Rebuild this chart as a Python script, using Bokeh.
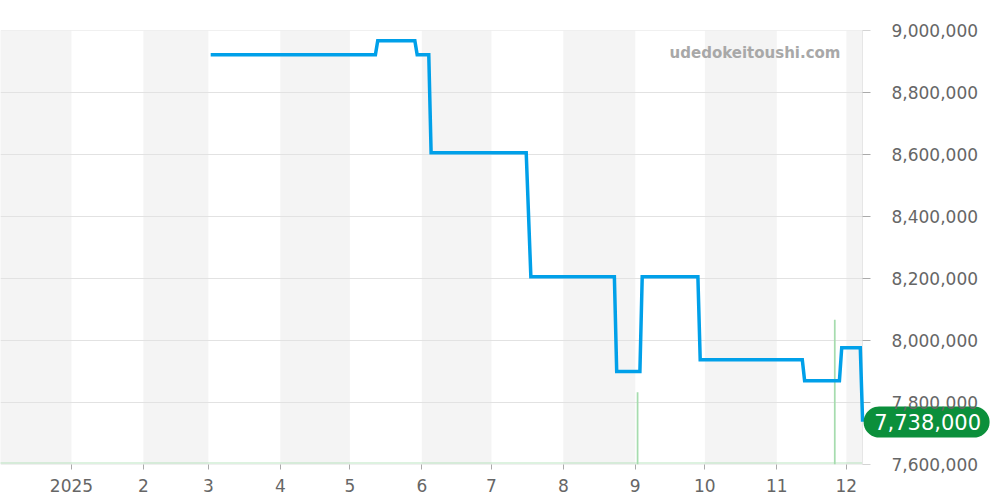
from datetime import datetime, timedelta
import numpy as np

from bokeh.plotting import figure
from bokeh.models import (Range1d, FixedTicker, NumeralTickFormatter,
                          Label, Span, ColumnDataSource)
from bokeh.embed import file_html
from bokeh.resources import INLINE

# ---------------- data ----------------
price_dates = ["2025-03-02", "2025-05-12", "2025-05-13", "2025-05-29", "2025-05-30",
               "2025-06-04", "2025-06-05", "2025-07-16", "2025-07-18", "2025-08-23",
               "2025-08-24", "2025-09-03", "2025-09-04", "2025-09-28", "2025-09-29",
               "2025-11-12", "2025-11-13", "2025-11-28", "2025-11-29", "2025-12-07",
               "2025-12-08"]
prices = [8922000, 8922000, 8967000, 8967000, 8922000,
          8922000, 8606000, 8606000, 8206000, 8206000,
          7900000, 7900000, 8206000, 8206000, 7938000,
          7938000, 7870000, 7870000, 7977000, 7977000,
          7738000]

volume_dates = ["2025-09-02", "2025-11-26"]
volumes = [1, 2]

month_starts = ["2024-12-01", "2025-01-01", "2025-02-01", "2025-03-01", "2025-04-01",
                "2025-05-01", "2025-06-01", "2025-07-01", "2025-08-01", "2025-09-01",
                "2025-10-01", "2025-11-01", "2025-12-01", "2026-01-01"]
shaded_months = [True, False, True, False, True, False, True, False, True, False,
                 True, False, True]
month_labels = ["", "2025", "2", "3", "4", "5", "6", "7", "8", "9", "10", "11", "12"]

y_ticks = [7600000, 7800000, 8000000, 8200000, 8400000, 8600000, 8800000, 9000000]
last_price_text = "7,738,000"
watermark = "udedokeitoushi.com"

# ---------------- helpers ----------------
def to_dt(s):
    return datetime.strptime(s, "%Y-%m-%d")

def to_ms(d):
    return (d - datetime(1970, 1, 1)).total_seconds() * 1000.0

px_dates = [to_dt(d) for d in price_dates]
vol_dates = [to_dt(d) for d in volume_dates]
ms_dates = [to_dt(d) for d in month_starts]

FONT = "DejaVu Sans"
W, H = 1000, 500
B_TOP, B_BOTTOM = 30, 36
FRAME_H = H - B_TOP - B_BOTTOM
PLOT_W = 862                      # width of the time-series area inside the frame
DAYS_PER_PX = 371.55 / PLOT_W

jan1 = datetime(2025, 1, 1)
x_start = jan1 - timedelta(days=30.6)
chart_end = jan1 + timedelta(days=340.95)          # right edge of the plotting area
x_end = x_start + timedelta(days=DAYS_PER_PX * W)  # frame spans the full width
y_lo, y_hi = 7600000, 9000000

p = figure(width=W, height=H, x_axis_type="datetime", y_axis_location="right",
           x_range=Range1d(x_start, x_end), y_range=Range1d(y_lo, y_hi),
           output_backend="svg", toolbar_location=None,
           min_border_left=0, min_border_top=B_TOP, min_border_right=0,
           min_border_bottom=B_BOTTOM)
p.outline_line_color = None
p.background_fill_color = "white"
p.border_fill_color = "white"

# month bands (clipped at the end of the plotting area)
band_src = ColumnDataSource(dict(
    left=[ms_dates[i] for i in range(len(shaded_months)) if shaded_months[i]],
    right=[min(ms_dates[i + 1], chart_end) for i in range(len(shaded_months)) if shaded_months[i]],
))
p.quad(left="left", right="right", bottom=y_lo, top=y_hi, source=band_src,
       fill_color="#f4f4f4", line_color=None, level="image")

# horizontal grid lines, only across the plotting area
p.xgrid.grid_line_color = None
p.ygrid.grid_line_color = None
p.segment(x0=[x_start] * len(y_ticks), x1=[chart_end] * len(y_ticks),
          y0=y_ticks, y1=y_ticks, line_color="#e2e2e2", line_width=1, level="underlay")

# value-axis line and tick marks at the right edge of the plotting area
p.add_layout(Span(location=chart_end, dimension="height", line_color="#e6e6e6",
                  line_width=1, level="underlay"))
p.ray(x=[chart_end] * len(y_ticks), y=y_ticks, length=8, length_units="screen",
      angle=0, line_color="#aaaaaa", line_width=1)

# volume on extra range
p.extra_y_ranges = {"vol": Range1d(0, 6)}
p.segment(x0=[x_start], x1=[chart_end], y0=[0.02], y1=[0.02], y_range_name="vol",
          line_color="#a6dcae", line_width=1.5, line_dash="1 1")
p.vbar(x=vol_dates, top=volumes, bottom=0, width=0.75 * 86400000, y_range_name="vol",
       fill_color="#a6dcae", line_color=None)

# price line
p.line(px_dates, prices, line_color="#00a0e9", line_width=3.5, line_join="miter")

# axes
ya = p.yaxis[0]
ya.ticker = FixedTicker(ticks=y_ticks)
ya.formatter = NumeralTickFormatter(format="0,0")
ya.axis_line_color = None
ya.major_tick_line_color = None
ya.major_tick_out = 0
ya.major_tick_in = 0
ya.minor_tick_line_color = None
ya.major_label_standoff = -(W - 891)
ya.major_label_text_font = FONT
ya.major_label_text_font_size = "17px"
ya.major_label_text_color = "#666666"

xa = p.xaxis[0]
tick_ms = [to_ms(d) for d in ms_dates[:-1]]
xa.ticker = FixedTicker(ticks=tick_ms)
xa.major_label_overrides = {t: lab for t, lab in zip(tick_ms, month_labels)}
xa.axis_line_color = None
xa.major_tick_line_color = "#aaaaaa"
xa.major_tick_out = 5
xa.major_tick_in = 0
xa.minor_tick_line_color = None
xa.major_label_standoff = 9
xa.major_label_text_font = FONT
xa.major_label_text_font_size = "17px"
xa.major_label_text_color = "#666666"

# watermark (frame-relative screen coords, y from bottom)
p.add_layout(Label(x=840, y=FRAME_H - 22, x_units="screen", y_units="screen",
                   text=watermark, text_align="right", text_baseline="middle",
                   text_font=FONT, text_font_style="bold", text_font_size="15px",
                   text_color="#a8a8a8"))

# last price badge: pill shape anchored at the last point
ms_per_px = DAYS_PER_PX * 86400000
val_per_px = (y_hi - y_lo) / FRAME_H
last_x = to_ms(px_dates[-1])
last_y = prices[-1]
r = 15.5
left_c = 1 + r
right_c = 127 - r
th = np.linspace(np.pi / 2, 3 * np.pi / 2, 24)
xs_px = list(left_c + r * np.cos(th)) + list(right_c - r * np.cos(th))[::-1]
ys_px = list(r * np.sin(th)) + list(r * np.sin(th))[::-1]
p.patch([float(last_x + v * ms_per_px) for v in xs_px],
        [float(last_y - 0.3 * val_per_px + v * val_per_px) for v in ys_px],
        fill_color="#0b8f3b", line_color=None)
p.add_layout(Label(x=float(last_x), y=last_y, text=last_price_text,
                   text_align="center", text_baseline="middle", x_offset=65, y_offset=0,
                   text_font=FONT, text_font_size="21px", text_color="white"))

open("out.html", "w").write(file_html(p, INLINE))
